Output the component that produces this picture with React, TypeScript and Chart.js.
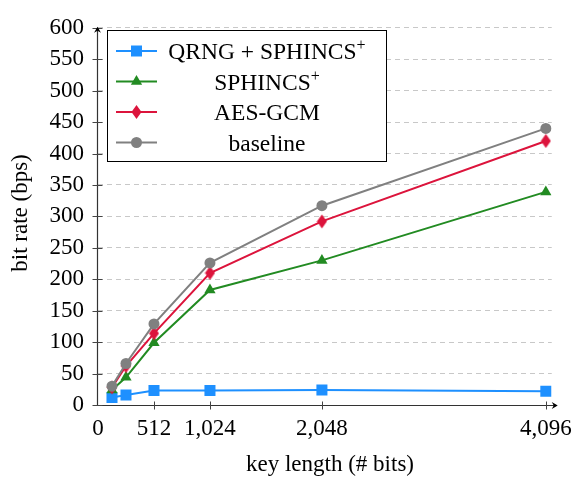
import React, { useEffect, useRef } from "react";
import { Chart, registerables } from "chart.js";

Chart.register(...registerables);

const keyLengths = [128, 256, 512, 1024, 2048, 4096];
const qrngSphincs = [12, 16, 23, 23, 24, 22];
const sphincs = [24, 44, 99, 183, 230, 339];
const aesGcm = [28, 62, 114, 210, 292, 420];
const baseline = [30, 66, 129, 226, 317, 440];
const xTickValues = [0, 512, 1024, 2048, 4096];
const seriesNames = ["QRNG + SPHINCS", "SPHINCS", "AES-GCM", "baseline"];
const seriesSups = ["+", "+", "", ""];
const xTitle = "key length (# bits)";
const yTitle = "bit rate (bps)";

const COLORS = ["#1e90ff", "#228b22", "#dc143c", "#808080"];
const FONT = "'Liberation Serif', 'Times New Roman', serif";

function makeDiamond(color: string) {
  const c = document.createElement("canvas");
  c.width = 11;
  c.height = 15;
  const g = c.getContext("2d")!;
  g.fillStyle = color;
  g.beginPath();
  g.moveTo(5.5, 0.5);
  g.lineTo(10.5, 7.5);
  g.lineTo(5.5, 14.5);
  g.lineTo(0.5, 7.5);
  g.closePath();
  g.fill();
  return c;
}

function drawMarker(ctx: CanvasRenderingContext2D, kind: number, x: number, y: number, color: string) {
  ctx.save();
  ctx.fillStyle = color;
  ctx.beginPath();
  if (kind === 0) {
    ctx.rect(x - 5.5, y - 5.5, 11, 11);
  } else if (kind === 1) {
    const r = 6.5;
    ctx.moveTo(x, y - r);
    ctx.lineTo(x + r * 0.866, y + r * 0.5);
    ctx.lineTo(x - r * 0.866, y + r * 0.5);
    ctx.closePath();
  } else if (kind === 2) {
    ctx.moveTo(x, y - 7);
    ctx.lineTo(x + 5, y);
    ctx.lineTo(x, y + 7);
    ctx.lineTo(x - 5, y);
    ctx.closePath();
  } else {
    ctx.arc(x, y, 5.5, 0, Math.PI * 2);
  }
  ctx.fill();
  ctx.restore();
}

const decorPlugin = {
  id: "decor",
  beforeDatasetsDraw(chart: any) {
    const ctx: CanvasRenderingContext2D = chart.ctx;
    const { left, right, top, bottom } = chart.chartArea;
    const xs = chart.scales.x;
    const ys = chart.scales.y;
    const axX = left - 0.5;
    const axY = bottom + 0.5;
    ctx.save();
    ctx.strokeStyle = "#333";
    ctx.lineWidth = 1.2;
    ctx.beginPath();
    ctx.moveTo(axX, axY);
    ctx.lineTo(axX, top);
    ctx.stroke();
    ctx.beginPath();
    ctx.moveTo(axX, axY);
    ctx.lineTo(right + 4, axY);
    ctx.stroke();
    ctx.lineWidth = 1;
    ctx.strokeStyle = "#444";
    for (let v = 0; v <= 600; v += 50) {
      const py = Math.round(ys.getPixelForValue(v)) + 0.5;
      ctx.beginPath();
      ctx.moveTo(axX - 5, py);
      ctx.lineTo(axX + 5, py);
      ctx.stroke();
    }
    for (const v of xTickValues) {
      if (v === 0) continue;
      const px = Math.round(xs.getPixelForValue(v)) + 0.5;
      ctx.beginPath();
      ctx.moveTo(px, axY - 4);
      ctx.lineTo(px, axY + 4);
      ctx.stroke();
    }
    ctx.fillStyle = "#000";
    const ay = top - 1;
    ctx.beginPath();
    ctx.moveTo(axX, ay);
    ctx.lineTo(axX - 3.5, ay + 6);
    ctx.lineTo(axX, ay + 4);
    ctx.lineTo(axX + 3.5, ay + 6);
    ctx.closePath();
    ctx.fill();
    const bx = right + 6;
    ctx.beginPath();
    ctx.moveTo(bx, axY);
    ctx.lineTo(bx - 6, axY - 3.5);
    ctx.lineTo(bx - 4, axY);
    ctx.lineTo(bx - 6, axY + 3.5);
    ctx.closePath();
    ctx.fill();
    ctx.restore();
  },
  afterDraw(chart: any) {
    const ctx: CanvasRenderingContext2D = chart.ctx;
    ctx.save();
    ctx.fillStyle = "#000";
    ctx.font = `23px ${FONT}`;
    ctx.textAlign = "center";
    ctx.textBaseline = "middle";
    ctx.fillText(xTitle, 330, 465);
    ctx.save();
    ctx.translate(21, 213);
    ctx.rotate(-Math.PI / 2);
    ctx.fillText(yTitle, 0, 0);
    ctx.restore();

    const bx = 107.5, by = 30.5, bw = 279, bh = 131;
    ctx.fillStyle = "#fff";
    ctx.fillRect(bx, by, bw, bh);
    ctx.strokeStyle = "#000";
    ctx.lineWidth = 1;
    ctx.strokeRect(bx, by, bw, bh);
    const mainFont = `23.5px ${FONT}`;
    const supFont = `16px ${FONT}`;
    for (let i = 0; i < seriesNames.length; i++) {
      const y = 51 + i * 30.5;
      ctx.strokeStyle = COLORS[i];
      ctx.lineWidth = 2;
      ctx.beginPath();
      ctx.moveTo(116, y);
      ctx.lineTo(157, y);
      ctx.stroke();
      drawMarker(ctx, i, 136.5, y, COLORS[i]);
      ctx.font = mainFont;
      const w1 = ctx.measureText(seriesNames[i]).width;
      ctx.font = supFont;
      const w2 = seriesSups[i] ? ctx.measureText(seriesSups[i]).width : 0;
      const sx = 267 - (w1 + w2) / 2;
      ctx.fillStyle = "#000";
      ctx.textAlign = "left";
      ctx.textBaseline = "alphabetic";
      ctx.font = mainFont;
      ctx.fillText(seriesNames[i], sx, y + 8);
      if (seriesSups[i]) {
        ctx.font = supFont;
        ctx.fillText(seriesSups[i], sx + w1, y - 1);
      }
    }
    ctx.restore();
  },
};

export default function App() {
  const ref = useRef<HTMLCanvasElement | null>(null);
  useEffect(() => {
    if (!ref.current) return;
    const diamond = makeDiamond(COLORS[2]);
    const mk = (vals: number[]) => vals.map((v, i) => ({ x: keyLengths[i], y: v }));
    const chart = new Chart(ref.current, {
      type: "line",
      data: {
        datasets: [
          {
            label: seriesNames[0] + seriesSups[0],
            data: mk(qrngSphincs),
            borderColor: COLORS[0],
            backgroundColor: COLORS[0],
            pointStyle: "rect",
            pointRadius: 7.8,
            pointBorderWidth: 0,
            borderWidth: 2,
            order: 3,
          },
          {
            label: seriesNames[1] + seriesSups[1],
            data: mk(sphincs),
            borderColor: COLORS[1],
            backgroundColor: COLORS[1],
            pointStyle: "triangle",
            pointRadius: 6.5,
            pointBorderWidth: 0,
            borderWidth: 2,
            order: 2,
          },
          {
            label: seriesNames[2],
            data: mk(aesGcm),
            borderColor: COLORS[2],
            backgroundColor: COLORS[2],
            pointStyle: diamond as any,
            pointRadius: 7,
            pointBorderWidth: 0,
            borderWidth: 2,
            order: 1,
          },
          {
            label: seriesNames[3],
            data: mk(baseline),
            borderColor: COLORS[3],
            backgroundColor: COLORS[3],
            pointStyle: "circle",
            pointRadius: 5.5,
            pointBorderWidth: 0,
            borderWidth: 2,
            order: 0,
          },
        ],
      },
      options: {
        animation: false,
        responsive: false,
        maintainAspectRatio: false,
        layout: { padding: { top: 18, right: 22, left: 0, bottom: 0 } },
        plugins: { legend: { display: false }, tooltip: { enabled: false } },
        scales: {
          x: {
            type: "linear",
            min: 0,
            max: 4150,
            afterBuildTicks: (axis: any) => {
              axis.ticks = xTickValues.map((v) => ({ value: v }));
            },
            afterFit: (axis: any) => {
              axis.height = 72;
            },
            ticks: {
              autoSkip: false,
              maxRotation: 0,
              padding: 10,
              color: "#000",
              font: { family: FONT, size: 23 },
              callback: (v: any) => Number(v).toLocaleString("en-US"),
            },
            grid: { display: false, drawTicks: false },
            border: { display: false },
          },
          y: {
            min: 0,
            max: 600,
            afterFit: (axis: any) => {
              axis.width = 98;
            },
            ticks: {
              stepSize: 50,
              padding: 14,
              color: "#000",
              font: { family: FONT, size: 23 },
            },
            grid: { color: "#c8c8c8", lineWidth: 1, drawTicks: false },
            border: { display: false, dash: [5, 4] },
          },
        },
      },
      plugins: [decorPlugin],
    });
    return () => chart.destroy();
  }, []);
  return (
    <div style={{ position: "fixed", left: 0, top: 0, width: 582, height: 477, background: "#fff" }}>
      <canvas ref={ref} width={582} height={477} style={{ width: 582, height: 477, display: "block" }} />
    </div>
  );
}
